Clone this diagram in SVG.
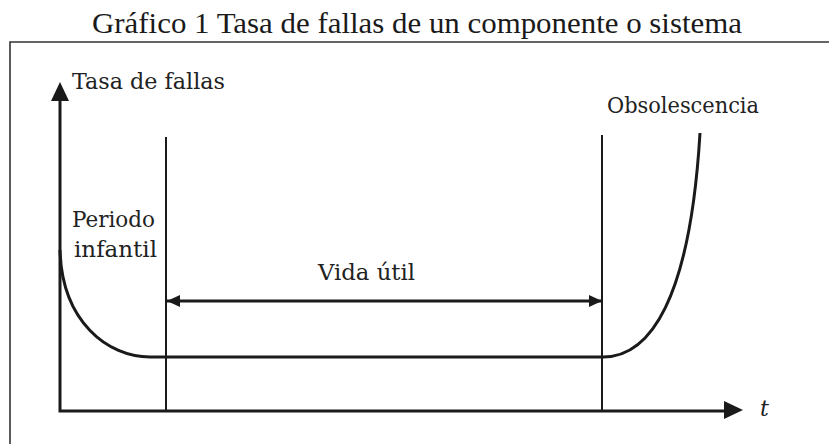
<svg xmlns="http://www.w3.org/2000/svg" width="829" height="444" viewBox="0 0 829 444">
<style>
.lbl{font-family:"DejaVu Serif","Liberation Serif",serif;font-size:22px;fill:#222}
.title{font-family:"Liberation Serif","Times New Roman",serif;font-size:30px;fill:#1a1a1a}
.ax{stroke:#1a1a1a;stroke-width:3;fill:none}
.thin{stroke:#1a1a1a;stroke-width:2;fill:none}
.curve{stroke:#1a1a1a;stroke-width:3;fill:none}
</style>
<defs>
<marker id="ah" markerUnits="userSpaceOnUse" markerWidth="14" markerHeight="12" refX="13" refY="6" orient="auto-start-reverse">
<path d="M0,0 L13,6 L0,12 Z" fill="#1a1a1a"/>
</marker>
</defs>
<rect width="829" height="444" fill="#ffffff"/>
<text class="title" x="92" y="33" textLength="650" lengthAdjust="spacingAndGlyphs">Gráfico 1 Tasa de fallas de un componente o sistema</text>
<g id="frame">
<path d="M10,444 L10,42 L829,42" stroke="#333" stroke-width="1.6" fill="none"/>
</g>
<g id="axes">
<path class="ax" d="M60,100 L60,411 L726,411"/>
<path d="M60,82 L69,101 L51,101 Z" fill="#1a1a1a"/>
<path d="M743,410 L724,401 L724,419 Z" fill="#1a1a1a"/>
</g>
<g id="label-tasa"><text class="lbl" x="72" y="89" textLength="153" lengthAdjust="spacingAndGlyphs">Tasa de fallas</text></g>
<g id="label-t"><text x="760" y="416" font-family="DejaVu Serif, serif" font-style="italic" font-size="22" fill="#222">t</text></g>
<g id="label-obs"><text class="lbl" x="607" y="113" textLength="152" lengthAdjust="spacingAndGlyphs">Obsolescencia</text></g>
<g id="label-periodo"><text class="lbl" x="72" y="227" textLength="83" lengthAdjust="spacingAndGlyphs">Periodo</text><text class="lbl" x="74" y="257" textLength="83" lengthAdjust="spacingAndGlyphs">infantil</text></g>
<g id="label-vida"><text class="lbl" x="318" y="280" textLength="97" lengthAdjust="spacingAndGlyphs">Vida útil</text></g>
<g id="connectors">
<line class="thin" x1="166" y1="137" x2="166" y2="411"/>
<line class="thin" x1="602" y1="135" x2="602" y2="411"/>
<line class="ax" x1="167" y1="301" x2="602" y2="301" marker-start="url(#ah)" marker-end="url(#ah)" stroke-width="2.5"/>
<path class="curve" d="M60,250 C62,322 108,357 150,357 L603,357 C650,357 690,300 700,133"/>
</g>
</svg>
